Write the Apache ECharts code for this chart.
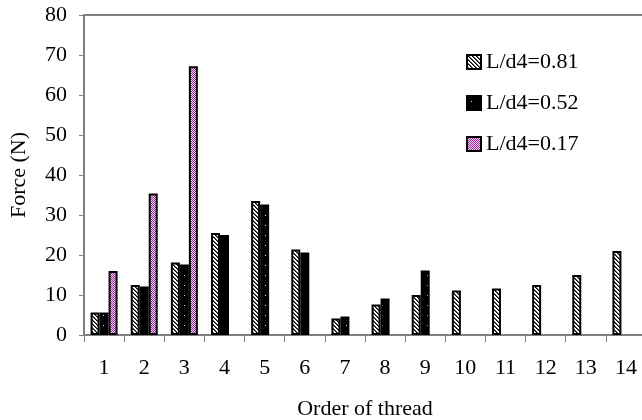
<!DOCTYPE html>
<html>
<head>
<meta charset="utf-8">
<script src="https://cdn.jsdelivr.net/npm/echarts@6/dist/echarts.min.js"></script>
<style>
  html, body { margin: 0; padding: 0; background: #fff; }
  #chart { width: 642px; height: 420px; }
</style>
</head>
<body>
<div id="chart"></div>
<script>
// Thread order and measured force per ratio L/d4
const threads = ['1','2','3','4','5','6','7','8','9','10','11','12','13','14'];
const seriesNames = ['L/d4=0.81', 'L/d4=0.52', 'L/d4=0.17'];
const force081 = [5.6, 12.5, 18.1, 25.5, 33.5, 21.4, 4.1, 7.6, 10.0, 11.1, 11.6, 12.5, 15.0, 21.0];
const force052 = [5.6, 12.1, 17.6, 25.0, 32.6, 20.6, 4.6, 9.1, 16.1, null, null, null, null, null];
const force017 = [16.0, 35.4, 67.2, null, null, null, null, null, null, null, null, null, null, null];
const yTicks = { min: 0, max: 80, interval: 10 };

const FONT = "'Liberation Serif', 'Times New Roman', serif";
const FS = 22;

// Fill patterns drawn on small tiles
function tile(w, h, paint) {
  const c = document.createElement('canvas');
  c.width = w; c.height = h;
  const ctx = c.getContext('2d');
  paint(ctx, w, h);
  return c;
}
const hatchTile = tile(8, 8, (ctx, w, h) => {
  ctx.fillStyle = '#ffffff';
  ctx.fillRect(0, 0, w, h);
  for (let y = 0; y < h; y++) {
    for (let x = 0; x < w; x++) {
      const k = ((x - y) % 4 + 4) % 4;
      if (k === 0) { ctx.fillStyle = '#000000'; ctx.fillRect(x, y, 1, 1); }
      else if (k === 1) { ctx.fillStyle = '#606060'; ctx.fillRect(x, y, 1, 1); }
    }
  }
});
const dotTile = tile(9, 10, (ctx, w, h) => {
  ctx.fillStyle = '#000000';
  ctx.fillRect(0, 0, w, h);
  ctx.fillStyle = '#e0e0e0';
  ctx.fillRect(4, 5, 1, 1);
});
const checkTile = tile(2, 2, (ctx) => {
  ctx.fillStyle = '#f4c8f4';
  ctx.fillRect(0, 0, 2, 2);
  ctx.fillStyle = '#993399';
  ctx.fillRect(0, 0, 1, 1);
  ctx.fillRect(1, 1, 1, 1);
});
const fills = [
  { image: hatchTile, repeat: 'repeat' },
  { image: dotTile, repeat: 'repeat' },
  { image: checkTile, repeat: 'repeat' }
];
const values = [force081, force052, force017];

const chart = echarts.init(document.getElementById('chart'), null, { renderer: 'canvas' });

const option = {
  backgroundColor: '#ffffff',
  animation: false,
  grid: { left: 84, top: 15, width: 562, height: 320, containLabel: false, outerBoundsMode: 'none' },
  legend: {
    orient: 'vertical',
    left: 466,
    top: 51,
    padding: 0,
    itemWidth: 14,
    itemHeight: 14,
    itemGap: 19,
    icon: 'rect',
    textStyle: { fontFamily: FONT, fontSize: FS, color: '#000' },
    data: seriesNames
  },
  xAxis: [{
    type: 'category',
    data: threads,
    boundaryGap: true,
    axisLine: { lineStyle: { color: '#808080', width: 2 } },
    axisTick: { show: true, alignWithLabel: false, length: 7, lineStyle: { color: '#808080', width: 1 } },
    axisLabel: { fontFamily: FONT, fontSize: FS, color: '#000', margin: 22 },
    name: 'Order of thread',
    nameLocation: 'middle',
    nameGap: 63,
    nameTextStyle: { fontFamily: FONT, fontSize: FS, color: '#000' }
  }, {
    type: 'category',
    position: 'top',
    data: threads,
    axisLine: { lineStyle: { color: '#808080', width: 2 } },
    axisTick: { show: false },
    axisLabel: { show: false }
  }],
  yAxis: {
    type: 'value',
    min: yTicks.min,
    max: yTicks.max,
    interval: yTicks.interval,
    axisLine: { show: true, lineStyle: { color: '#808080', width: 2 } },
    axisTick: { show: true, length: 5, lineStyle: { color: '#808080', width: 1 } },
    splitLine: { show: false },
    axisLabel: { fontFamily: FONT, fontSize: FS, color: '#000', margin: 17 },
    name: 'Force (N)',
    nameLocation: 'middle',
    nameGap: 54,
    nameRotate: 90,
    nameTextStyle: { fontFamily: FONT, fontSize: FS, color: '#000' }
  },
  series: seriesNames.map((name, i) => ({
    name: name,
    type: 'bar',
    xAxisIndex: 0,
    data: values[i],
    barWidth: 9,
    barGap: '0%',
    itemStyle: { color: fills[i], borderColor: '#000', borderWidth: 2 }
  }))
};

chart.setOption(option);
</script>
</body>
</html>
